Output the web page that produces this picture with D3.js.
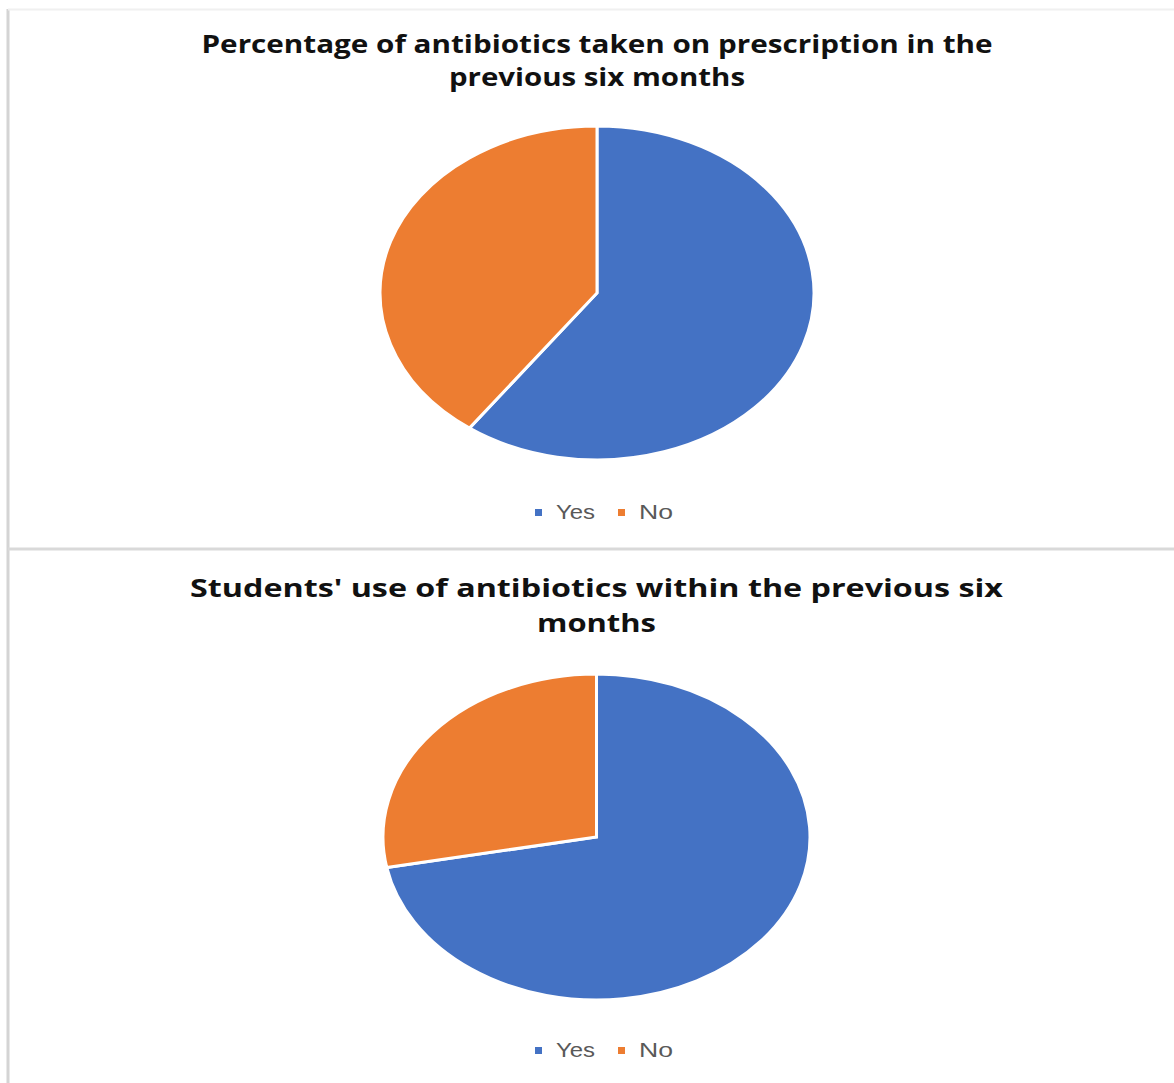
<!DOCTYPE html>
<html>
<head>
<meta charset="utf-8">
<script src="https://cdn.jsdelivr.net/npm/d3@7"></script>
<style>
  body { margin: 0; background: #fff; }
  svg { display: block; }
</style>
</head>
<body>
<div id="chart"></div>
<script>
(function(d3) {
  'use strict';

  var width = 1174;
  var height = 1083;

  // data
  var categories = ['Yes', 'No'];
  var prescriptionValues = [60, 40];
  var useValues = [72, 28];
  var titles = [
    ['Percentage of antibiotics taken on prescription in the', 'previous six months'],
    ["Students' use of antibiotics within the previous six", 'months']
  ];

  var color = d3.scaleOrdinal()
    .domain(categories)
    .range(['#4472C4', '#ED7D31']);

  var svg = d3.select('#chart')
    .append('svg')
    .attr('width', width)
    .attr('height', height);

  // panel frame lines
  svg.append('line')
    .attr('x1', 8).attr('x2', 8).attr('y1', 9).attr('y2', height)
    .attr('stroke', '#d4d4d4').attr('stroke-width', 3);
  svg.append('line')
    .attr('x1', 8).attr('x2', width).attr('y1', 9.5).attr('y2', 9.5)
    .attr('stroke', '#f0f0f0').attr('stroke-width', 2);
  svg.append('line')
    .attr('x1', 8).attr('x2', width).attr('y1', 549).attr('y2', 549)
    .attr('stroke', '#d9d9d9').attr('stroke-width', 3);

  var panels = [
    { values: prescriptionValues, title: titles[0], cx: 597, cy: 293, rx: 217, ry: 167,
      titleY: [53, 86], titleW: [791, 296], legendY: 519 },
    { values: useValues, title: titles[1], cx: 596.5, cy: 837, rx: 213.5, ry: 163,
      titleY: [597, 632], titleW: [813, 119], legendY: 1057 }
  ];

  var pie = d3.pie()
    .value(function(d) { return d.value; })
    .sort(null);

  var R = 100;
  var arc = d3.arc().innerRadius(0).outerRadius(R);

  panels.forEach(function(p) {
    var data = categories.map(function(c, i) { return { label: c, value: p.values[i] }; });

    // title
    p.title.forEach(function(line, i) {
      svg.append('text')
        .attr('x', p.cx)
        .attr('y', p.titleY[i])
        .attr('text-anchor', 'middle')
        .attr('textLength', p.titleW[i])
        .attr('lengthAdjust', 'spacingAndGlyphs')
        .style('font-family', '"Open Sans", sans-serif')
        .style('font-weight', 700)
        .style('font-size', '25px')
        .style('fill', '#111')
        .text(line);
    });

    // pie (circle stretched into ellipse)
    var g = svg.append('g')
      .attr('transform', 'translate(' + p.cx + ',' + p.cy + ') scale(' + (p.rx / R) + ',' + (p.ry / R) + ')');

    g.selectAll('path')
      .data(pie(data))
      .enter()
      .append('path')
      .attr('d', arc)
      .attr('fill', function(d) { return color(d.data.label); })
      .attr('stroke', '#fff')
      .attr('stroke-width', 3)
      .attr('vector-effect', 'non-scaling-stroke');

    // legend
    var legendX = [535, 618];
    var legendW = [39, 34];
    var legend = svg.selectAll(null)
      .data(categories)
      .enter()
      .append('g')
      .attr('transform', function(d, i) {
        return 'translate(' + legendX[i] + ',' + p.legendY + ')';
      });

    legend.append('rect')
      .attr('x', 0)
      .attr('y', -10)
      .attr('width', 7)
      .attr('height', 7)
      .attr('fill', color);

    legend.append('text')
      .attr('x', 21)
      .attr('y', 0)
      .attr('textLength', function(d, i) { return legendW[i]; })
      .attr('lengthAdjust', 'spacingAndGlyphs')
      .style('font-family', '"Liberation Sans", Arial, sans-serif')
      .style('font-size', '20px')
      .style('fill', '#595959')
      .text(function(d) { return d; });
  });

})(window.d3);
</script>
</body>
</html>
